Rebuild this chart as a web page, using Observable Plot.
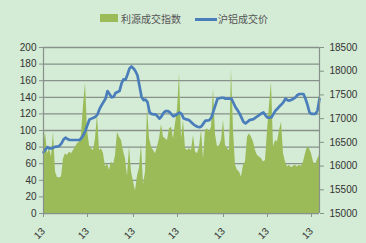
<!DOCTYPE html>
<html><head><meta charset="utf-8">
<script src="https://cdn.jsdelivr.net/npm/d3@7"></script>
<script src="https://cdn.jsdelivr.net/npm/@observablehq/plot@0.6"></script>
<style>
body{margin:0;background:#d4ebd5;width:366px;height:243px;overflow:hidden;font-family:"Noto Sans CJK SC",sans-serif}
#legend{position:relative;height:32px}
#legend span{position:absolute}
.lt{font-size:10px;color:#555;line-height:12px}
</style></head><body>
<div id="legend">
 <span style="left:100px;top:14px;width:18px;height:8px;background:#9bbb59"></span>
 <span class="lt" style="left:121px;top:13px">利源成交指数</span>
 <span style="left:195px;top:18px;width:22px;height:3px;background:#4a7ebb"></span>
 <span class="lt" style="left:218px;top:13px">沪铝成交价</span>
</div>
<div id="chart"></div>
<script>
const seriesIndexName = "利源成交指数";
const seriesPriceName = "沪铝成交价";
const indexValues = [80,98,72,78,68,98,50,43,43,44,66,72,70,74,72,76,80,84,86,95,130,157,100,82,78,76,90,119,76,78,72,56,60,52,62,58,70,98,92,88,75,66,45,80,50,38,27,45,55,83,35,50,127,90,80,76,72,80,90,107,92,90,88,102,104,90,108,125,168,90,112,78,76,78,76,94,74,72,80,100,66,100,102,98,104,150,95,80,82,88,112,82,78,76,174,100,58,52,50,44,58,62,92,96,92,86,76,70,68,66,62,64,100,130,158,80,88,86,100,110,72,62,56,58,55,57,58,56,58,57,62,72,80,78,72,62,58,65,70];
const priceValues = [16290,16350,16400,16370,16370,16390,16410,16410,16430,16480,16560,16600,16570,16550,16550,16550,16550,16550,16550,16590,16660,16750,16870,16980,17000,17020,17040,17090,17200,17280,17350,17420,17580,17520,17450,17460,17540,17560,17580,17740,17830,17820,17930,18060,18100,18060,18000,17910,17690,17460,17390,17400,17350,17140,17100,17090,17090,17050,17000,17050,17120,17160,17160,17140,17090,17050,17070,17100,17130,17100,17010,16990,16980,16960,16920,16880,16850,16830,16820,16840,16900,16960,16960,16970,17030,17160,17290,17420,17430,17440,17440,17420,17420,17420,17420,17330,17240,17180,17110,17020,16930,16900,16930,16970,16980,16990,17020,17050,17080,17110,17130,17070,17020,17020,17030,17100,17170,17210,17260,17300,17350,17420,17390,17380,17400,17420,17450,17500,17520,17520,17520,17420,17290,17130,17100,17100,17100,17170,17420];
const leftTicks = [0,20,40,60,80,100,120,140,160,180,200];
const rightTicks = [15000,15500,16000,16500,17000,17500,18000,18500];
const xTickPos = [0,22,45,67,90,112,134];
const xTickLabels = ["13","13","13","13","13","13","13"];

const toLeft = p => (p - 15000) / 3500 * 200;
const data = indexValues.map((v, i) => ({i, v, p: toLeft(priceValues[i])}));
const xLab = new Map(xTickPos.map((d, k) => [d, xTickLabels[k]]));

const chart = Plot.plot({
  width: 366, height: 211,
  marginTop: 15, marginBottom: 30, marginLeft: 43, marginRight: 47,
  style: {background: "transparent", fontFamily: "Liberation Sans, sans-serif", fontSize: "10px", color: "#333"},
  x: {domain: [0, indexValues.length - 1]},
  y: {domain: [0, 200]},
  marks: [
    Plot.ruleY(leftTicks, {stroke: "#86928a", strokeWidth: 1.3}),
    Plot.areaY(data, {x: "i", y: "v", fill: "#9bbb59"}),
    Plot.lineY(data, {x: "i", y: "p", stroke: "#4a7ebb", strokeWidth: 2.7}),
    Plot.ruleX([0, indexValues.length - 1], {stroke: "#86928a", strokeWidth: 1.2}),
    Plot.axisY({ticks: leftTicks, tickSize: 4, tickPadding: 3, label: null, stroke: "#86928a", fill: "#333"}),
    Plot.axisY({anchor: "right", ticks: rightTicks.map(toLeft), tickFormat: d => String(Math.round(15000 + d / 200 * 3500)), tickSize: 4, tickPadding: 6, label: null, stroke: "#86928a", fill: "#333"}),
    Plot.axisX({ticks: xTickPos, tickFormat: d => xLab.get(d), tickRotate: -45, tickSize: 4, tickPadding: 12, label: null, stroke: "#86928a", fill: "#333"})
  ]
});
document.getElementById("chart").appendChild(chart);
</script>
</body></html>
